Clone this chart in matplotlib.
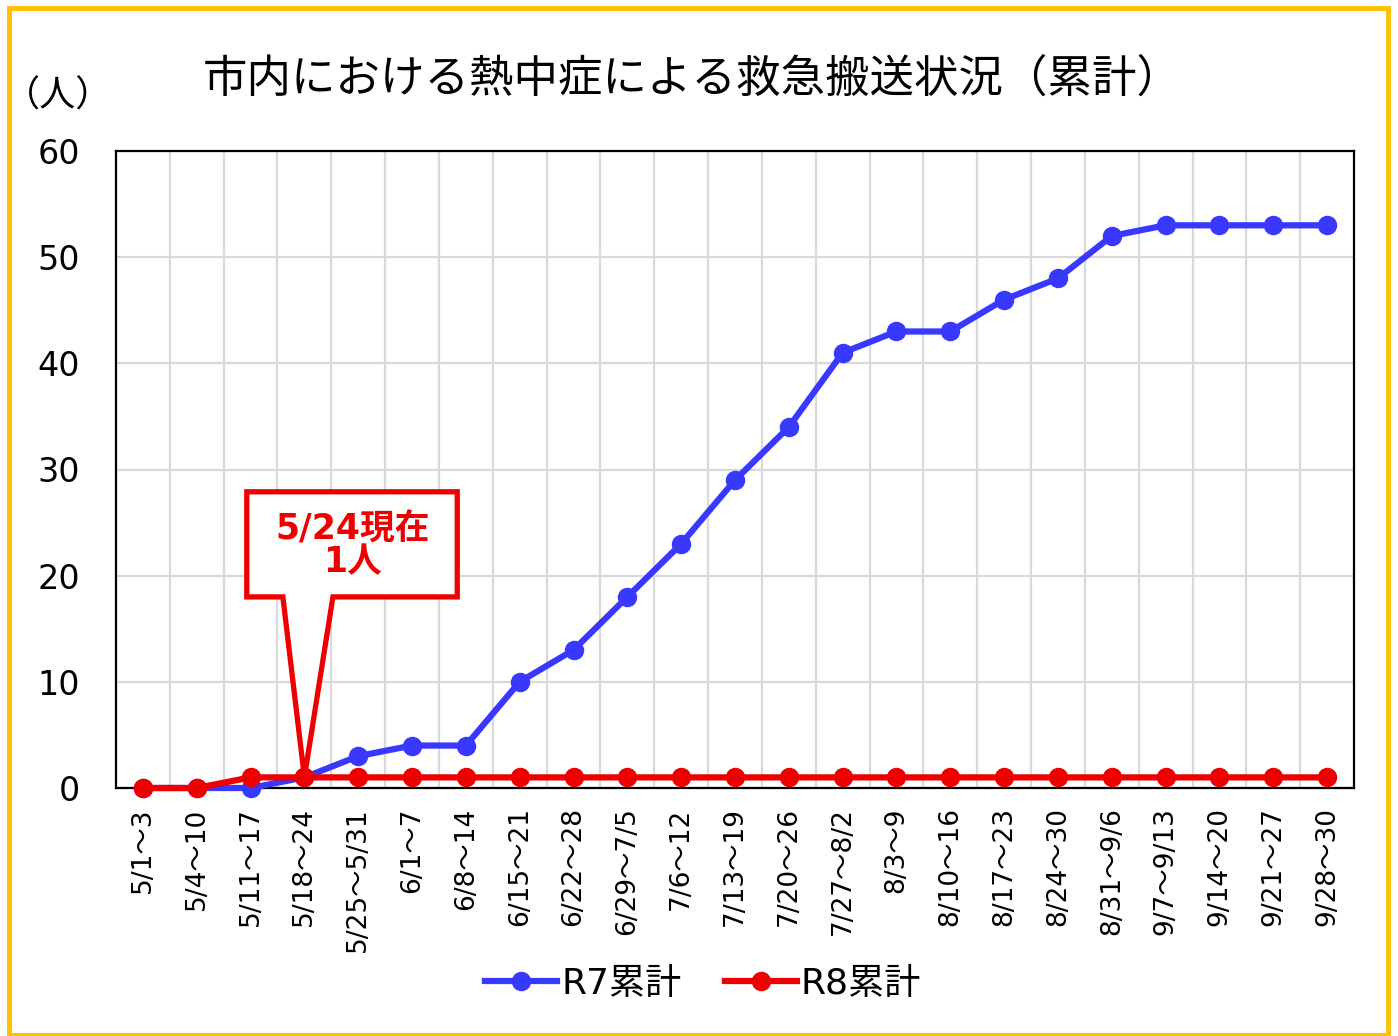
import numpy as np
import matplotlib.pyplot as plt
from matplotlib.patches import Polygon, Rectangle
from matplotlib.lines import Line2D

plt.rcParams['font.family'] = ['DejaVu Sans', 'Noto Sans CJK JP']

# weekly periods and cumulative counts
weeks = ['5/1～3', '5/4～10', '5/11～17', '5/18～24', '5/25～5/31', '6/1～7',
         '6/8～14', '6/15～21', '6/22～28', '6/29～7/5', '7/6～12', '7/13～19',
         '7/20～26', '7/27～8/2', '8/3～9', '8/10～16', '8/17～23', '8/24～30',
         '8/31～9/6', '9/7～9/13', '9/14～20', '9/21～27', '9/28～30']
r7 = [0, 0, 0, 1, 3, 4, 4, 10, 13, 18, 23, 29, 34, 41, 43, 43, 46, 48, 52, 53, 53, 53, 53]
r8 = [0, 0, 1, 1, 1, 1, 1, 1, 1, 1, 1, 1, 1, 1, 1, 1, 1, 1, 1, 1, 1, 1, 1]
callout_idx = 3   # 5/18~24
callout_text = '5/24現在\n1人'

blue = '#3838FF'
red = '#EE0000'

fig = plt.figure(figsize=(13.98, 10.36), dpi=100)
W, H = 1398, 1036
ax = fig.add_axes([116 / W, 1 - 788 / H, (1354 - 116) / W, (788 - 151) / H])

x = np.arange(len(weeks))
ax.plot(x, r7, color=blue, lw=4.5, marker='o', ms=13, zorder=3, clip_on=False)
ax.plot(x, r8, color=red, lw=4.5, marker='o', ms=13, zorder=4, clip_on=False)

ax.set_xlim(-0.5, len(weeks) - 0.5)
ax.set_ylim(0, 60)
ax.set_yticks(range(0, 61, 10))
ax.set_xticks(x)
ax.set_xticklabels(weeks, rotation=90, fontsize=19, va='top')
ax.set_xticks(np.arange(0.5, len(weeks) - 1, 1), minor=True)
ax.tick_params(axis='y', labelsize=24, length=0, pad=26)
ax.tick_params(axis='x', which='both', length=0, pad=14)
ax.grid(True, axis='y', which='major', color='#D9D9D9', lw=1.6)
ax.grid(True, axis='x', which='minor', color='#D9D9D9', lw=1.6)
ax.set_axisbelow(True)
for s in ax.spines.values():
    s.set_linewidth(1.6)
    s.set_color('black')

# callout pointing at the latest R8 value
tx, ty = callout_idx, r8[callout_idx]
box = [(tx - 1.07, ty + 26.9), (tx + 2.84, ty + 26.9), (tx + 2.84, ty + 17.0),
       (tx + 0.53, ty + 17.0), (tx, ty), (tx - 0.40, ty + 17.0), (tx - 1.07, ty + 17.0)]
ax.add_patch(Polygon(box, closed=True, facecolor='white', edgecolor=red, lw=3.8,
                     joinstyle='miter', zorder=5))
ax.text(tx + 0.90, ty + 21.8, callout_text, color=red, fontsize=25, fontweight='bold',
        ha='center', va='center', linespacing=0.95, zorder=6)

fig.text(692 / W, 1 - 79 / H, '市内における熱中症による救急搬送状況（累計）',
         fontsize=32, ha='center', va='center')
fig.text(58 / W, 1 - 96 / H, '（人）', fontsize=26, ha='center', va='center')

handles = [Line2D([], [], color=blue, lw=4.5, marker='o', ms=13),
           Line2D([], [], color=red, lw=4.5, marker='o', ms=13)]
fig.legend(handles, ['R7累計', 'R8累計'], loc='center', bbox_to_anchor=(703 / W, 1 - 984 / H),
           ncol=2, frameon=False, fontsize=26, handlelength=2.0, handletextpad=0.1,
           columnspacing=1.2)

# outer yellow frame
fig.patches.append(Rectangle((9 / W, 1 / H), 1379 / W, 1 - 9 / H, transform=fig.transFigure,
                             fill=False, edgecolor='#FFC000', lw=3.5))

fig.savefig('out.png', dpi=100)
